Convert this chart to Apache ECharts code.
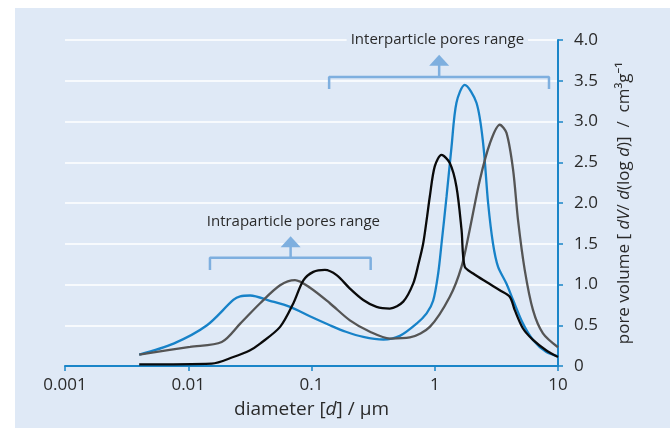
<!DOCTYPE html>
<html>
<head>
<meta charset="utf-8">
<script src="https://cdn.jsdelivr.net/npm/echarts@6/dist/echarts.min.js"></script>
<style>
html,body{margin:0;padding:0;background:#ffffff;}
#chart{width:670px;height:428px;}
</style>
</head>
<body>
<div id="chart"></div>
<script>
// ---- data ----
const xTickLabels = ['0.001', '0.01', '0.1', '1', '10'];
const yTickLabels = ['0', '0.5', '1.0', '1.5', '2.0', '2.5', '3.0', '3.5', '4.0'];

const blueD = [0.004, 0.0076, 0.0142, 0.0232, 0.0264, 0.0318, 0.046, 0.067, 0.097, 0.141, 0.19, 0.263, 0.382, 0.521, 0.713, 0.859, 0.97, 1.066, 1.135, 1.247, 1.368, 1.50, 1.75, 2.18, 2.47, 2.71, 2.97, 3.26, 3.82, 4.32, 5.20, 6.27, 8.05, 10];
const blueV = [0.14, 0.275, 0.50, 0.81, 0.855, 0.865, 0.80, 0.725, 0.61, 0.50, 0.42, 0.357, 0.325, 0.37, 0.52, 0.645, 0.80, 1.135, 1.5, 2.08, 2.69, 3.23, 3.45, 3.23, 2.73, 2.0, 1.5, 1.22, 1.01, 0.81, 0.52, 0.32, 0.17, 0.12];

const grayD = [0.004, 0.01035, 0.0187, 0.0264, 0.0383, 0.0556, 0.0735, 0.0973, 0.141, 0.205, 0.298, 0.432, 0.628, 0.912, 1.325, 1.65, 1.92, 2.32, 2.80, 3.37, 3.82, 4.32, 4.74, 5.37, 6.27, 7.55, 10];
const grayV = [0.14, 0.235, 0.295, 0.52, 0.77, 0.99, 1.054, 0.96, 0.77, 0.56, 0.42, 0.337, 0.35, 0.48, 0.85, 1.22, 1.67, 2.28, 2.73, 2.96, 2.86, 2.41, 1.79, 1.18, 0.685, 0.40, 0.23];

const blackD = [0.004, 0.0155, 0.0232, 0.0315, 0.0383, 0.0556, 0.0713, 0.0859, 0.1035, 0.1285, 0.160, 0.205, 0.263, 0.337, 0.432, 0.555, 0.668, 0.74, 0.805, 0.859, 0.912, 1.0, 1.135, 1.325, 1.50, 1.65, 1.75, 2.05, 2.63, 3.37, 4.06, 4.46, 5.20, 6.27, 8.05, 10];
const blackV = [0.02, 0.03, 0.11, 0.19, 0.275, 0.48, 0.77, 1.05, 1.155, 1.18, 1.115, 0.95, 0.81, 0.725, 0.705, 0.79, 1.01, 1.26, 1.5, 1.79, 2.08, 2.45, 2.59, 2.49, 2.2, 1.67, 1.22, 1.135, 1.03, 0.93, 0.85, 0.685, 0.46, 0.32, 0.19, 0.11];

// annotation ranges (data units)
const interRange = [0.139, 8.45];
const interBracketY = [3.40, 3.546];
const interArrow = [1.086, 3.70, 3.753];
const interLabel = ['Interparticle pores range', 1.05, 4.0];

const intraRange = [0.015, 0.302];
const intraBracketY = [1.177, 1.328];
const intraArrow = [0.0677, 1.46, 1.525];
const intraLabel = ['Intraparticle pores range', 0.0713, 1.77];

// ---- build ----
const zip = (a, b) => a.map((v, i) => [v, b[i]]);
const BRACKET = '#7eafdf';
const PANEL = '#dfe9f6';
const TXT = '#2a2a2a';
const FONT = '"Open Sans", "Noto Sans", sans-serif';

function bracket(range, ys) {
  return [[range[0], ys[0]], [range[0], ys[1]], [range[1], ys[1]], [range[1], ys[0]]];
}

const chart = echarts.init(document.getElementById('chart'), null, {renderer: 'canvas'});

const curve = (name, d, v, color) => ({
  name, type: 'line', data: zip(d, v), symbol: 'none', smooth: 0.3,
  lineStyle: {color, width: 2.3}, silent: true, z: 5
});
const annoLine = (data) => ({
  type: 'line', data, symbol: 'none', silent: true,
  lineStyle: {color: BRACKET, width: 2.5}, z: 3
});

chart.setOption({
  animation: false,
  textStyle: {fontFamily: FONT},
  graphic: [{
    type: 'rect', left: 15, top: 8, z: -100,
    shape: {width: 655, height: 420},
    style: {fill: PANEL}
  }],
  grid: {left: 65, right: 112, top: 40, bottom: 62, containLabel: false},
  xAxis: {
    type: 'log', logBase: 10, min: 0.001, max: 10,
    name: 'diameter [{i|d}] / µm',
    nameLocation: 'middle', nameGap: 34,
    nameTextStyle: {color: TXT, fontSize: 19, fontFamily: FONT,
      rich: {i: {fontStyle: 'italic', fontSize: 19, color: TXT, fontFamily: FONT}}},
    axisLine: {show: true, lineStyle: {color: '#1a85c8', width: 2}},
    axisTick: {show: true, inside: false, length: 5, lineStyle: {color: '#1a85c8', width: 1.5}},
    minorTick: {show: false},
    splitLine: {show: false},
    axisLabel: {
      color: TXT, fontSize: 17, margin: 11, fontFamily: FONT,
      formatter: v => xTickLabels[Math.round(Math.log10(v)) + 3]
    }
  },
  yAxis: {
    type: 'value', position: 'right', min: 0, max: 4, interval: 0.5,
    name: 'pore volume [ {i|dV}/ {i|d}(log {i|d})]  /  cm³g⁻¹',
    nameLocation: 'middle', nameGap: 58, nameRotate: 90,
    nameTextStyle: {color: TXT, fontSize: 17, fontFamily: FONT,
      rich: {i: {fontStyle: 'italic', fontSize: 17, color: TXT, fontFamily: FONT}}},
    axisLine: {show: true, lineStyle: {color: '#1a85c8', width: 2}},
    axisTick: {show: true, inside: false, length: 5, lineStyle: {color: '#1a85c8', width: 1.5}},
    splitLine: {show: true, lineStyle: {color: '#ffffff', width: 1.5}},
    axisLabel: {
      color: TXT, fontSize: 17, margin: 16, fontFamily: FONT,
      formatter: v => yTickLabels[Math.round(v / 0.5)]
    }
  },
  series: [
    annoLine(bracket(interRange, interBracketY)),
    annoLine([[interArrow[0], interBracketY[1]], [interArrow[0], interArrow[1]]]),
    annoLine(bracket(intraRange, intraBracketY)),
    annoLine([[intraArrow[0], intraBracketY[1]], [intraArrow[0], intraArrow[1]]]),
    {
      type: 'scatter', silent: true, symbol: 'triangle', symbolSize: [20, 11],
      itemStyle: {color: BRACKET, opacity: 1}, z: 3,
      data: [[interArrow[0], interArrow[2]], [intraArrow[0], intraArrow[2]]]
    },
    {
      type: 'scatter', silent: true, symbolSize: 1, clip: false,
      itemStyle: {color: 'rgba(0,0,0,0)', opacity: 1}, z: 4,
      label: {show: true, position: 'inside', color: TXT, fontSize: 15, fontFamily: FONT,
        backgroundColor: PANEL, padding: [0, 4],
        formatter: p => p.data[2]},
      data: [[interLabel[1], interLabel[2], interLabel[0]], [intraLabel[1], intraLabel[2], intraLabel[0]]]
    },
    curve('blue', blueD, blueV, '#1782c8'),
    curve('gray', grayD, grayV, '#555555'),
    curve('black', blackD, blackV, '#0a0a0a')
  ]
});
</script>
</body>
</html>
